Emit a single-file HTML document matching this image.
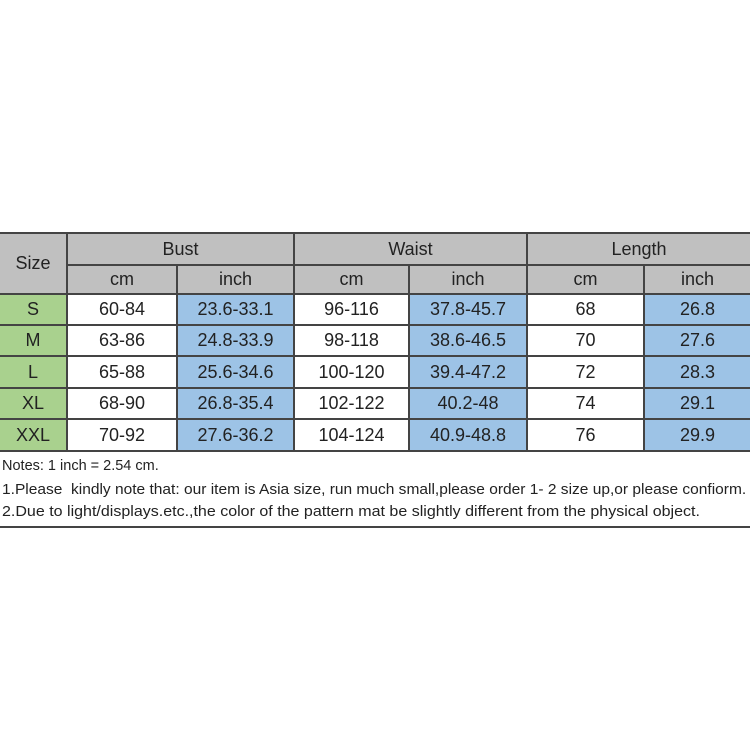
<!DOCTYPE html>
<html><head><style>
body{margin:0;width:750px;height:750px;background:#fff;position:relative;overflow:hidden;font-family:"Liberation Sans",sans-serif;color:#222}
.c{position:absolute;box-sizing:border-box;display:flex;align-items:center;justify-content:center;font-size:18px;border-right:2px solid #444;border-bottom:2px solid #444}
.g{background:#c0c0c0}.gr{background:#a9d18e}.b{background:#9dc3e6}
.n{position:absolute;left:2px;font-size:14.5px;color:#222;white-space:nowrap;transform-origin:0 0}
</style></head><body>
<div style="position:absolute;left:0;top:232px;width:750px;height:2px;background:#444"></div>
<div id="t"></div>
<div class="n" style="top:458px">Notes: 1 inch = 2.54 cm.</div>
<div class="n" style="top:482px;transform:scaleX(1.07)">1.Please&nbsp; kindly note that: our item is Asia size, run much small,please order 1- 2 size up,or please confiorm.</div>
<div class="n" style="top:504px;transform:scaleX(1.105)">2.Due to light/displays.etc.,the color of the pattern mat be slightly different from the physical object.</div>
<div style="position:absolute;left:0;top:526px;width:750px;height:2px;background:#444"></div>
<script>
var X=[0,68,178,295,410,528,645,752];
var h='';
function cell(x0,x1,y0,y1,cls,t){h+='<div class="c '+cls+'" style="left:'+X[x0]+'px;top:'+y0+'px;width:'+(X[x1]-X[x0])+'px;height:'+(y1-y0)+'px">'+t+'</div>';}
cell(0,1,234,295,'g','Size');
cell(1,3,234,266,'g','Bust');cell(3,5,234,266,'g','Waist');cell(5,7,234,266,'g','Length');
for(var i=1;i<7;i++)cell(i,i+1,266,295,'g',i%2?'cm':'inch');
var R=[['S','60-84','23.6-33.1','96-116','37.8-45.7','68','26.8'],
['M','63-86','24.8-33.9','98-118','38.6-46.5','70','27.6'],
['L','65-88','25.6-34.6','100-120','39.4-47.2','72','28.3'],
['XL','68-90','26.8-35.4','102-122','40.2-48','74','29.1'],
['XXL','70-92','27.6-36.2','104-124','40.9-48.8','76','29.9']];
var Y=[295,326,357,389,420,452];
for(var r=0;r<5;r++)for(var c=0;c<7;c++)cell(c,c+1,Y[r],Y[r+1],c==0?'gr':(c%2?'':'b'),R[r][c]);
document.getElementById('t').innerHTML=h;
</script>
</body></html>
